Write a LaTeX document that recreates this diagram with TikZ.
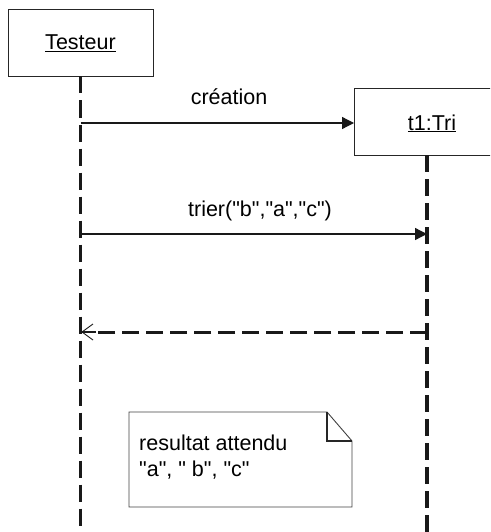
\documentclass[tikz,border=0pt]{standalone}
\usepackage{fontspec}
% plain family without TeX mapping, so straight quotes stay straight
\newfontfamily\labelfont{Liberation Sans}
\usetikzlibrary{arrows.meta}
\begin{document}
\begin{tikzpicture}[x=1pt,y=-1pt,
  txt/.style={font=\labelfont\fontsize{21.5}{26}\selectfont, inner sep=0pt, anchor=base},
  objbox/.style={draw=black!85, line width=1pt},
  lifeline/.style={draw=black!90, line width=3.4pt, dash pattern=on 17pt off 7pt},
  msg/.style={draw=black!90, line width=1.3pt, -{Triangle[length=12pt,width=12pt]}},
  ret/.style={draw=black!90, line width=3pt, dash pattern=on 17pt off 7pt},
  notebox/.style={draw=black!75, line width=0.9pt}]
\useasboundingbox (0,0) rectangle (490,532);
\clip (0,0) rectangle (490,532);

% objects
\node[objbox, minimum width=145pt, minimum height=67pt, anchor=north west] (testeur) at (8,9) {};
\node[txt] (testeurlbl) at (80.5,50) {\underline{Testeur}};
\node[objbox, minimum width=160pt, minimum height=67pt, anchor=north west] (tri) at (354,88) {};
\node[txt] (trilbl) at (432,130) {\underline{t1:Tri}};

% lifelines
\coordinate (tEnd) at (80.5,534);
\coordinate (rTop) at (427,155);
\coordinate (rEnd) at (427,534);
\draw[lifeline] (80.5,76.5) -- (tEnd);
\draw[lifeline] (rTop) -- (rEnd);

% messages
\coordinate (m1s) at (80.5,123);
\coordinate (m2s) at (80.5,234);
\coordinate (m2e) at (427,234);
\coordinate (m3s) at (427,332);
\coordinate (m3e) at (82,332);
\draw[msg] (m1s) -- (tri.west |- m1s);
\node[txt] (lbl1) at (229,105) {création};
\draw[msg] (m2s) -- (m2e);
\node[txt] (lbl2) at (260,216) {trier("b","a","c")};
\draw[ret] (m3s) -- (96,332);
\draw[black!90, line width=1.3pt] (96,332) -- (m3e);
\draw[black!90, line width=0.9pt] (93,324) -- (m3e) -- (93,340);

% note
\coordinate (nA) at (129,412);
\coordinate (nB) at (327,412);
\coordinate (nC) at (352,441);
\coordinate (nD) at (352,507);
\coordinate (nE) at (129,507);
\draw[notebox] (nA) -- (nB) -- (nC) -- (nD) -- (nE) -- cycle;
\draw[black!85, line width=1.6pt] (nB) -- (327,441) -- (nC);
\node[txt, anchor=base west] (note1) at (139,450) {resultat attendu};
\node[txt, anchor=base west] (note2) at (139,476) {"a", " b", "c"};
\end{tikzpicture}
\end{document}
